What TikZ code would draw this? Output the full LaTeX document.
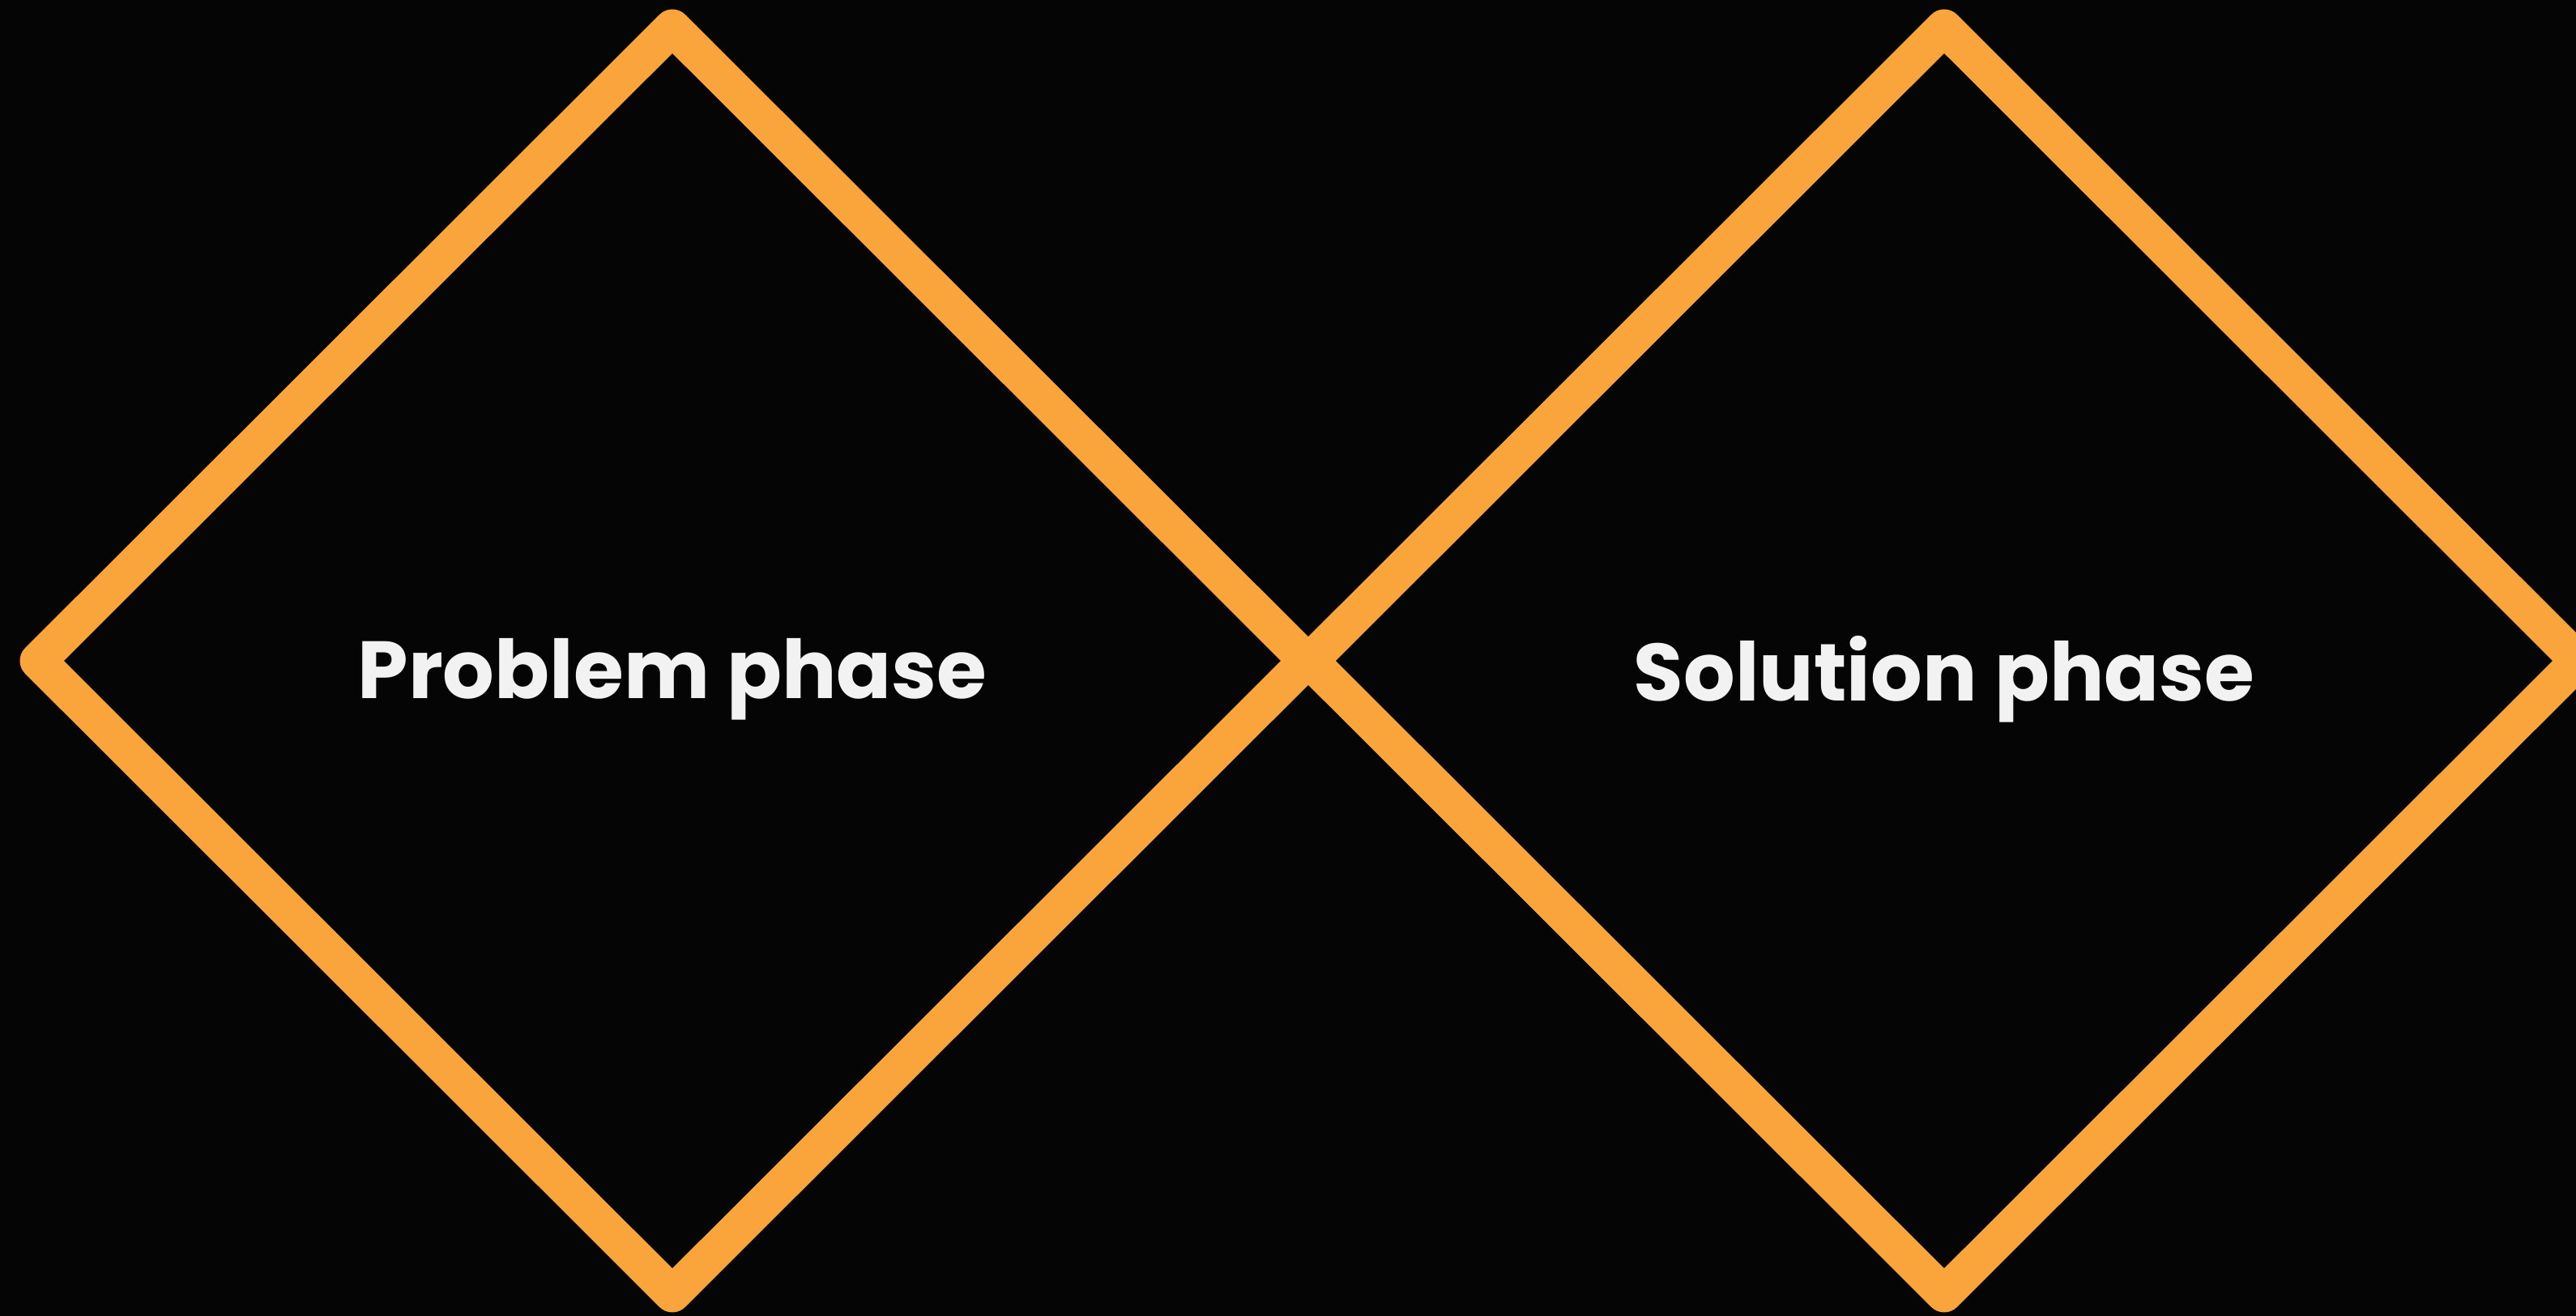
\documentclass[tikz,border=0pt]{standalone}
\usepackage{fontspec}
\usetikzlibrary{calc}
\setmainfont{Poppins}
\definecolor{bg}{HTML}{050505}
\definecolor{phaseorange}{HTML}{F9A53B}
\definecolor{labelwhite}{HTML}{F2F2F2}
\begin{document}
\begin{tikzpicture}[
  x=1cm, y=1cm,
  rhombus/.style={draw=phaseorange, line width=0.45cm, line join=round},
  phaselabel/.style={text=labelwhite, font=\bfseries\fontsize{28.5}{32}\selectfont, inner sep=0pt}
]
\fill[bg] (0,0) rectangle (31.8,16.25);
\useasboundingbox (0,0) rectangle (31.8,16.25);

% problem diamond
\coordinate (pc) at (8.30,8.09);
\draw[rhombus] ($(pc)+(0,7.82)$) -- ($(pc)+(7.83,0)$) -- ($(pc)+(0,-7.82)$) -- ($(pc)+(-7.83,0)$) -- cycle;
\node[phaselabel] (problem) at ($(pc)+(0,-0.23)$) {Problem phase};

% solution diamond
\coordinate (sc) at (24.00,8.09);
\draw[rhombus] ($(sc)+(0,7.82)$) -- ($(sc)+(7.83,0)$) -- ($(sc)+(0,-7.82)$) -- ($(sc)+(-7.83,0)$) -- cycle;
\node[phaselabel] (solution) at ($(sc)+(0,-0.23)$) {Solution phase};
\end{tikzpicture}
\end{document}
